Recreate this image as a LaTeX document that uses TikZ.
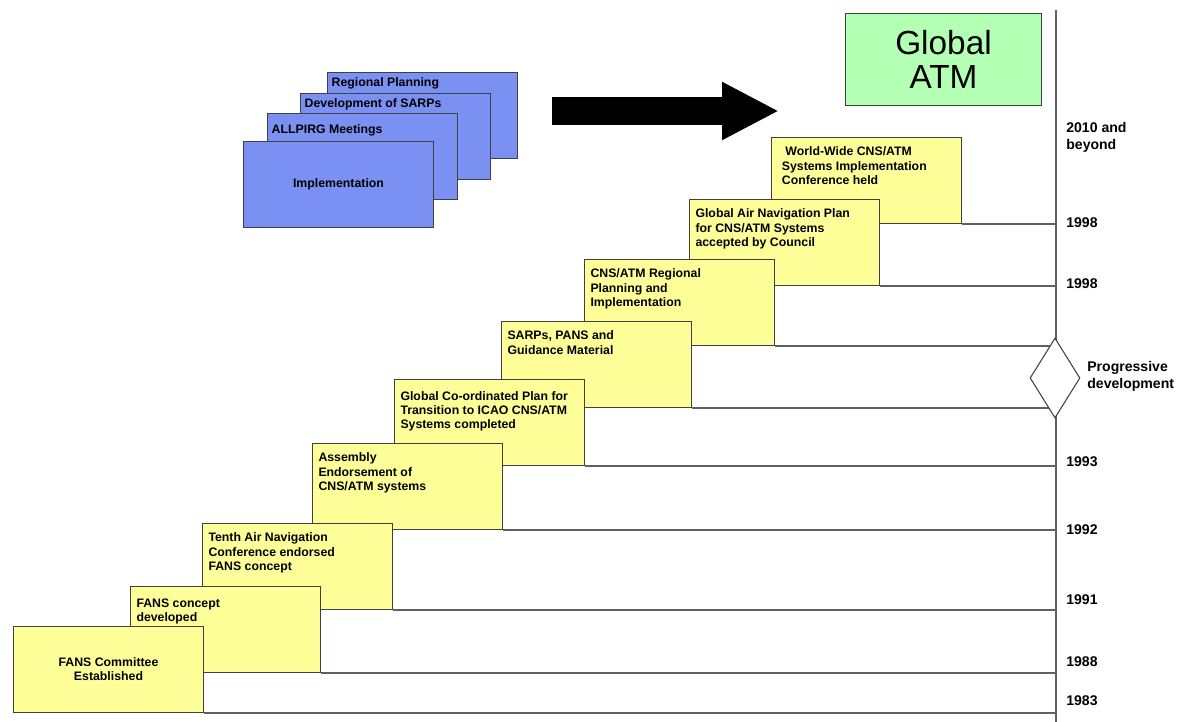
\documentclass[tikz,border=0pt]{standalone}
\usepackage{fontspec}
\setmainfont{Liberation Sans}
\usetikzlibrary{arrows.meta,positioning,shapes.geometric}
\definecolor{stepyellow}{RGB}{255,255,153}
\definecolor{planblue}{RGB}{122,144,242}
\definecolor{atmgreen}{RGB}{179,255,179}
\definecolor{edgegray}{RGB}{64,64,64}
\definecolor{rulegray}{RGB}{96,96,96}
\tikzset{
  stepbox/.style={rectangle, draw=edgegray, fill=stepyellow, line width=0.6pt, minimum width=3.8cm, minimum height=1.72cm, inner sep=0pt, anchor=south west},
  planbox/.style={rectangle, draw=edgegray, fill=planblue, line width=0.6pt, minimum width=3.8cm, minimum height=1.72cm, inner sep=0pt, anchor=north west},
  steptext/.style={anchor=north west, align=left, inner xsep=3.5pt, inner ysep=5.5pt, font=\fontsize{7}{8.1}\selectfont\bfseries},
  plantext/.style={anchor=north west, align=left, inner xsep=2.5pt, inner ysep=3.2pt, font=\fontsize{7}{8.1}\selectfont\bfseries},
  atmbox/.style={rectangle, draw=edgegray, fill=atmgreen, line width=0.6pt, minimum width=3.92cm, minimum height=1.84cm, inner sep=0pt, align=center, font=\fontsize{19}{19.5}\selectfont},
  yearlabel/.style={anchor=west, align=left, inner sep=0pt, font=\fontsize{8}{9.6}\selectfont\bfseries},
  rule/.style={draw=rulegray, line width=0.8pt},
  bigarrow/.style={line width=0.56cm, -{Triangle[length=1.14cm, width=1.08cm]}}
}
\begin{document}
\begin{tikzpicture}[x=0.02cm, y=-0.02cm]
  \useasboundingbox (0,0) rectangle (1178,722);
  % time axis
  \coordinate (axtop) at (1056,10);
  \coordinate (axbot) at (1056,722);
  \draw[rule, line width=1pt] (axtop) -- (axbot);

  % steps, top one first so the lower ones lie in front
  \node[stepbox] (worldwide) at (771,224) {};
  \node[stepbox] (ganp) at (689,286) {};
  \node[stepbox] (regional) at (584,346) {};
  \node[stepbox] (sarps) at (501,408) {};
  \node[stepbox] (gcp) at (394,466) {};
  \node[stepbox] (assembly) at (312,530) {};
  \node[stepbox] (tenth) at (202,610) {};
  \node[stepbox] (fansdev) at (130,673) {};
  \node[stepbox] (fans) at (13,713) {};

  \foreach \s in {worldwide,ganp,regional,sarps,gcp,assembly,tenth,fansdev,fans}
    \draw[rule] (\s.south east) -- (\s.south east -| axtop);

  \node[steptext, xshift=2.5pt] at (worldwide.north west) {\hspace{2pt}World-Wide CNS/ATM\\Systems Implementation\\Conference held};
  \node[steptext] at (ganp.north west) {Global Air Navigation Plan\\for CNS/ATM Systems\\accepted by Council};
  \node[steptext] at (regional.north west) {CNS/ATM Regional\\Planning and\\Implementation};
  \node[steptext] at (sarps.north west) {SARPs, PANS and\\Guidance Material};
  \node[steptext, yshift=-1.5pt] at (gcp.north west) {Global Co-ordinated Plan for\\Transition to ICAO CNS/ATM\\Systems completed};
  \node[steptext] at (assembly.north west) {Assembly\\Endorsement of\\CNS/ATM systems};
  \node[steptext] at (tenth.north west) {Tenth Air Navigation\\Conference endorsed\\FANS concept};
  \node[steptext, yshift=-1.5pt] at (fansdev.north west) {FANS concept\\developed};
  \node[align=center, inner sep=0pt, font=\fontsize{7}{8.1}\selectfont\bfseries] at (fans.center) {FANS Committee\\Established};

  % progressive development marker
  \node[diamond, draw=edgegray, fill=white, line width=0.6pt, aspect=0.625, minimum width=1cm, minimum height=1.6cm, inner sep=0pt] (progress) at (1055,378) {};

  % years
  \node[yearlabel] at (1066,137.5) {2010 and\\beyond};
  \node[yearlabel] at (1066,223) {1998};
  \node[yearlabel] at (1066,284) {1998};
  \node[yearlabel] at (1087,376.5) {Progressive\\development};
  \node[yearlabel] at (1066,462) {1993};
  \node[yearlabel] at (1066,530) {1992};
  \node[yearlabel] at (1066,600) {1991};
  \node[yearlabel] at (1066,662) {1988};
  \node[yearlabel] at (1066,701) {1983};

  % regional planning stack
  \node[planbox] (regplan) at (327,72) {};
  \node[plantext] at (regplan.north west) {Regional Planning};
  \node[planbox] (devsarps) at (300,93) {};
  \node[plantext] at (devsarps.north west) {Development of SARPs};
  \node[planbox] (allpirg) at (267,113) {};
  \node[plantext, yshift=-3pt] at (allpirg.north west) {ALLPIRG Meetings};
  \node[planbox] (impl) at (243,141) {};
  \node[font=\fontsize{7}{8.1}\selectfont\bfseries, inner sep=0pt] at (impl.center) {Implementation};

  % towards global ATM
  \coordinate (arrowtail) at (552,111);
  \coordinate (arrowtip) at (779,111);
  \draw[bigarrow] (arrowtail) -- (arrowtip);
  \node[atmbox, anchor=north west] (globalatm) at (845,13) {Global\\ATM};
\end{tikzpicture}
\end{document}
